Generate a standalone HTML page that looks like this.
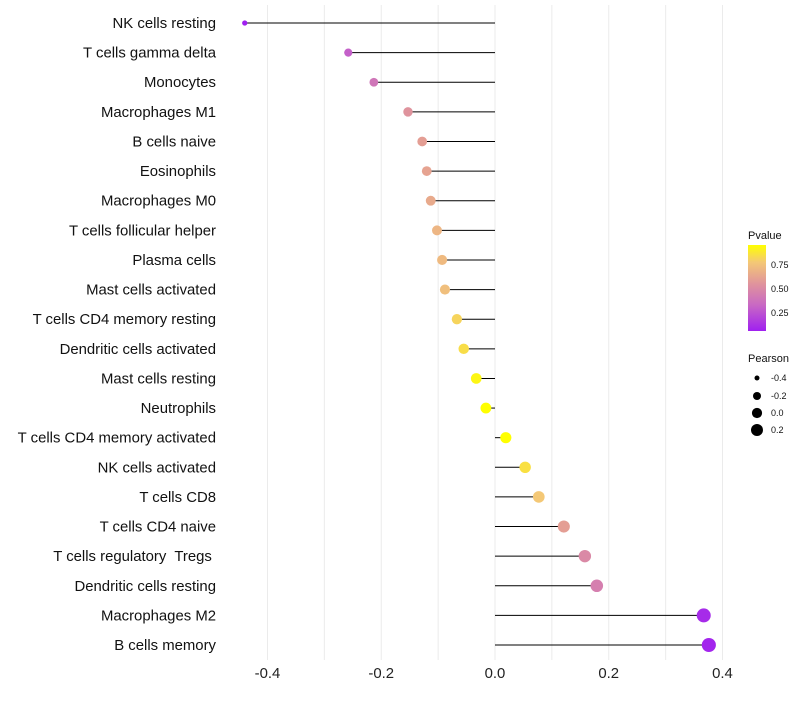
<!DOCTYPE html>
<html><head><meta charset="utf-8"><style>
body{margin:0;background:#fff;font-family:"Liberation Sans",sans-serif}
</style></head><body>
<svg id="chart" width="800" height="700" font-family="Liberation Sans, sans-serif">
<defs><linearGradient id="pg" x1="0" y1="1" x2="0" y2="0">
<stop offset="0" stop-color="#a020f0"/><stop offset="0.3" stop-color="#c868c4"/><stop offset="0.55" stop-color="#e0949c"/><stop offset="0.8" stop-color="#f4c876"/><stop offset="1" stop-color="#ffff00"/></linearGradient></defs>
<g id="grid"></g><g id="marks"></g><g id="labels"></g><g id="xaxis"></g>
<g font-size="9" fill="#111">
<text x="748" y="239" font-size="11">Pvalue</text>
<rect x="748" y="245" width="18" height="86" fill="url(#pg)"/>
<text x="771" y="268">0.75</text><text x="771" y="292">0.50</text><text x="771" y="316">0.25</text>
</g>
<g font-size="9" fill="#111">
<text x="748" y="362" font-size="11">Pearson</text>
<circle cx="757" cy="378" r="2.5" fill="#000"/><text x="771" y="381">-0.4</text>
<circle cx="757" cy="396" r="4" fill="#000"/><text x="771" y="399">-0.2</text>
<circle cx="757" cy="413" r="5.1" fill="#000"/><text x="771" y="416">0.0</text>
<circle cx="757" cy="430" r="6" fill="#000"/><text x="771" y="433">0.2</text>
</g>
</svg>
<script>
const categories=["NK cells resting","T cells gamma delta","Monocytes","Macrophages M1","B cells naive","Eosinophils","Macrophages M0","T cells follicular helper","Plasma cells","Mast cells activated","T cells CD4 memory resting","Dendritic cells activated","Mast cells resting","Neutrophils","T cells CD4 memory activated","NK cells activated","T cells CD8","T cells CD4 naive","T cells regulatory  Tregs ","Dendritic cells resting","Macrophages M2","B cells memory"];
const pearson=[-0.44,-0.258,-0.213,-0.153,-0.128,-0.12,-0.113,-0.102,-0.093,-0.088,-0.067,-0.055,-0.033,-0.016,0.019,0.053,0.077,0.121,0.158,0.179,0.367,0.376];
const pvalue=[0.05,0.3,0.4,0.55,0.6,0.62,0.65,0.7,0.72,0.74,0.82,0.85,0.93,0.97,0.96,0.86,0.78,0.6,0.5,0.45,0.1,0.08];
const xTicks=[-0.4,-0.2,0.0,0.2,0.4];
const NS="http://www.w3.org/2000/svg";
const xs=v=>495+v*568.75;
const ys=i=>23+i*29.62;
const stops=[[0,[160,32,240]],[0.3,[200,104,196]],[0.55,[224,148,156]],[0.8,[244,200,118]],[1,[255,255,0]]];
function col(p){const t=Math.max(0,Math.min(1,(p-0.06)/0.9));for(let k=1;k<stops.length;k++){if(t<=stops[k][0]){const a=stops[k-1],b=stops[k],f=(t-a[0])/(b[0]-a[0]);return "rgb("+a[1].map((c,j)=>Math.round(c+(b[1][j]-c)*f)).join(",")+")";}}return "rgb(255,255,0)";}
const rad=v=>Math.sqrt(Math.max(1,28+50*v))+0.2;
function mk(tag,attrs,parent){const e=document.createElementNS(NS,tag);for(const k in attrs)e.setAttribute(k,attrs[k]);document.getElementById(parent).appendChild(e);return e;}
for(let g=-0.4;g<=0.41;g+=0.1){const l=mk("line",{x1:xs(g),x2:xs(g),y1:5,y2:660,stroke:"#ebebeb","stroke-width":1},"grid");

}
categories.forEach((c,i)=>{
const s=mk("line",{x1:xs(0),x2:xs(pearson[i]),y1:ys(i),y2:ys(i),stroke:"#000","stroke-width":1},"marks");


const p=mk("circle",{cx:xs(pearson[i]),cy:ys(i),r:rad(pearson[i]),fill:col(pvalue[i])},"marks");


const t=mk("text",{x:216,y:ys(i)+5,"text-anchor":"end","font-size":14.9,fill:"#111",style:"white-space:pre"},"labels");
t.textContent=c;


});
xTicks.forEach(v=>{const t=mk("text",{x:xs(v),y:678,"text-anchor":"middle","font-size":14.9,fill:"#222"},"xaxis");
t.textContent=v.toFixed(1);

});
</script>
</body></html>
